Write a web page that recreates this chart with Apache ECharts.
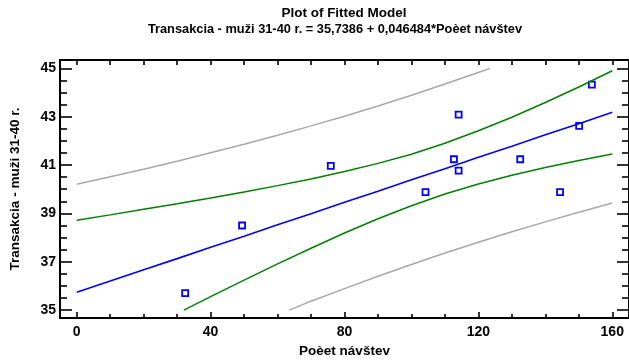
<!DOCTYPE html>
<html>
<head>
<meta charset="utf-8">
<script src="https://cdn.jsdelivr.net/npm/echarts@6/dist/echarts.min.js"></script>
<style>html,body{margin:0;padding:0;background:#fff}#c{width:629px;height:363px}</style>
</head>
<body>
<div id="c"></div>
<script>
// Observed data points
var pointX = [32.4, 49.4, 75.9, 104.2, 112.7, 114.1, 114.1, 132.5, 144.4, 150.1, 153.9];
var pointY = [35.70, 38.50, 40.97, 39.88, 41.24, 43.09, 40.77, 41.24, 39.88, 42.62, 44.33];

// Fitted line (blue)
var fitX = [0, 10, 20, 30, 40, 50, 60, 70, 80, 90, 100, 110, 120, 130, 140, 150, 160];
var fitY = [35.74, 36.20, 36.67, 37.13, 37.60, 38.06, 38.53, 38.99, 39.46, 39.92, 40.39, 40.85, 41.32, 41.78, 42.25, 42.71, 43.18];

// Confidence limits (green)
var confUpX = [0, 10, 20, 30, 40, 50, 60, 70, 80, 90, 100, 110, 120, 130, 140, 150, 160];
var confUpY = [38.72, 38.94, 39.17, 39.40, 39.64, 39.89, 40.15, 40.42, 40.73, 41.07, 41.45, 41.90, 42.42, 42.98, 43.59, 44.23, 44.90];
var confLoX = [32, 40, 50, 60, 70, 80, 90, 100, 110, 120, 130, 140, 150, 160];
var confLoY = [35.00, 35.56, 36.24, 36.91, 37.56, 38.19, 38.78, 39.32, 39.80, 40.22, 40.58, 40.90, 41.19, 41.46];

// Prediction limits (gray)
var predUpX = [0, 10, 20, 30, 40, 50, 60, 70, 80, 90, 100, 110, 120, 123.5];
var predUpY = [40.21, 40.52, 40.83, 41.16, 41.51, 41.86, 42.23, 42.62, 43.02, 43.44, 43.89, 44.35, 44.83, 45.00];
var predLoX = [63.5, 70, 80, 90, 100, 110, 120, 130, 140, 150, 160];
var predLoY = [35.00, 35.37, 35.89, 36.40, 36.89, 37.36, 37.81, 38.24, 38.65, 39.05, 39.43];

// Tick labels
var xMajor = [0, 40, 80, 120, 160];
var xMinor = [10, 20, 30, 50, 60, 70, 90, 100, 110, 130, 140, 150];
var xAll = [0, 10, 20, 30, 40, 50, 60, 70, 80, 90, 100, 110, 120, 130, 140, 150, 160];
var yMajor = [35, 37, 39, 41, 43, 45];
var yMinor = [35.5, 36, 36.5, 37.5, 38, 38.5, 39.5, 40, 40.5, 41.5, 42, 42.5, 43.5, 44, 44.5];

var titleText = 'Plot of Fitted Model';
var subtitleText = 'Transakcia - muži 31-40 r. = 35,7386 + 0,046484*Poèet návštev';
var xName = 'Poèet návštev';
var yName = 'Transakcia - muži 31-40 r.';

function pairs(xs, ys) { return xs.map(function (x, i) { return [x, ys[i]]; }); }

var FONT = '"Liberation Sans", Arial, sans-serif';
var XMIN = -5, XMAX = 165, YMIN = 34.674, YMAX = 45.346;

function axisCommon(min, max, pos, ticks, len, withLine) {
  return {
    type: 'value', min: min, max: max, position: pos, splitLine: { show: false },
    axisLine: { show: withLine, onZero: false, lineStyle: { color: '#000', width: 2 } },
    axisTick: { show: true, inside: true, length: len, customValues: ticks.slice(), lineStyle: { color: '#000', width: 1.6 } },
    axisLabel: { show: false }
  };
}
var labelStyle = function () { return { fontFamily: FONT, fontSize: 14, fontWeight: 'bold', color: '#000' }; };
var nameStyle = function () { return { fontFamily: FONT, fontSize: 13.5, fontWeight: 'bold', color: '#000' }; };

var xBottom = axisCommon(XMIN, XMAX, 'bottom', xMajor, 6, true);
xBottom.axisLabel = Object.assign({ show: true, customValues: xMajor.slice(), margin: 7 }, labelStyle());
xBottom.name = xName; xBottom.nameLocation = 'middle'; xBottom.nameGap = 26; xBottom.nameTextStyle = nameStyle();
var yLeft = axisCommon(YMIN, YMAX, 'left', yMajor, 12, true);
yLeft.axisLabel = Object.assign({ show: true, customValues: yMajor.slice(), margin: 4 }, labelStyle());
yLeft.name = yName; yLeft.nameLocation = 'middle'; yLeft.nameGap = 38; yLeft.nameRotate = 90; yLeft.nameTextStyle = nameStyle();

var option = {
  animation: false,
  backgroundColor: '#fff',
  title: [
    { text: titleText, left: 339, top: 1, textAlign: 'center',
      textStyle: { fontFamily: FONT, fontSize: 13.5, fontWeight: 'bold', color: '#000' } },
    { text: subtitleText, left: 330, top: 18, textAlign: 'center',
      textStyle: { fontFamily: FONT, fontSize: 12.8, fontWeight: 'bold', color: '#000' } }
  ],
  grid: { left: 58, top: 60, width: 573.75, height: 262 },
  xAxis: [
    xBottom,
    axisCommon(XMIN, XMAX, 'bottom', xMinor, 4, false),
    axisCommon(XMIN, XMAX, 'top', xAll, 5, true)
  ],
  yAxis: [
    yLeft,
    axisCommon(YMIN, YMAX, 'left', yMinor, 7, false),
    axisCommon(YMIN, YMAX, 'right', yMajor, 12, true),
    axisCommon(YMIN, YMAX, 'right', yMinor, 7, false)
  ],
  series: [
    { type: 'line', data: pairs(predUpX, predUpY), showSymbol: false, symbol: 'none', lineStyle: { color: '#a8a8a8', width: 1.5 } },
    { type: 'line', data: pairs(predLoX, predLoY), showSymbol: false, symbol: 'none', lineStyle: { color: '#a8a8a8', width: 1.5 } },
    { type: 'line', data: pairs(confUpX, confUpY), showSymbol: false, symbol: 'none', lineStyle: { color: '#008000', width: 1.5 } },
    { type: 'line', data: pairs(confLoX, confLoY), showSymbol: false, symbol: 'none', lineStyle: { color: '#008000', width: 1.5 } },
    { type: 'line', data: pairs(fitX, fitY), showSymbol: false, symbol: 'none', lineStyle: { color: '#0000ff', width: 1.6 } },
    { type: 'scatter', data: pairs(pointX, pointY), symbol: 'rect', symbolSize: 6,
      itemStyle: { color: '#fff', borderColor: '#0000ff', borderWidth: 1.8, opacity: 1 } }
  ]
};
var chart = echarts.init(document.getElementById('c'), null, { renderer: 'canvas' });
chart.setOption(option);
</script>
</body>
</html>
